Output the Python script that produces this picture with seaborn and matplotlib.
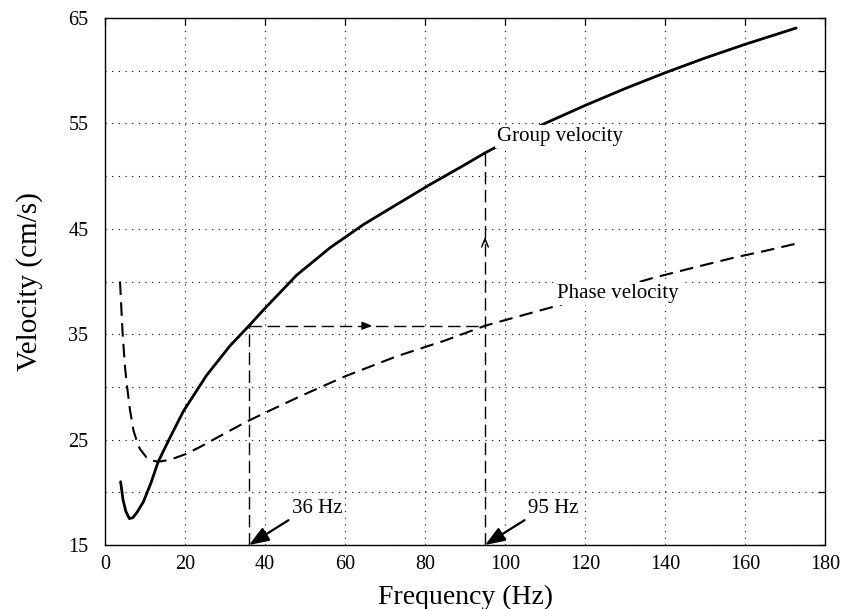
import matplotlib
matplotlib.use("Agg")
import matplotlib.pyplot as plt
import seaborn as sns
import pandas as pd

# Group velocity curve (Hz, cm/s)
group_freq = [3.9, 4.5, 5.2, 6.1, 7.0, 8.0, 9.6, 11.5, 13.3, 16.0, 19.6, 25.4,
              31.25, 36.0, 39.6, 47.9, 56.25, 64.6, 72.9, 81.25, 89.6, 95.0,
              100.0, 110.0, 120.0, 130.0, 140.0, 150.0, 160.0, 172.8]
group_vel = [21.0, 19.3, 18.2, 17.5, 17.6, 18.1, 19.1, 20.9, 22.9, 25.0, 27.7, 31.1,
             33.9, 35.8, 37.3, 40.6, 43.2, 45.4, 47.3, 49.2, 51.0, 52.2,
             53.2, 55.0, 56.7, 58.3, 59.8, 61.2, 62.5, 64.05]

# Phase velocity curve (Hz, cm/s)
phase_freq = [3.75, 4.4, 5.0, 5.4, 6.25, 7.1, 8.0, 8.75, 10.4, 12.0, 13.3, 15.0,
              17.1, 20.0, 23.75, 30.0, 35.4, 42.0, 48.75, 60.0, 72.9, 85.0, 95.0,
              98.75, 105.4, 112.1, 125.0, 137.1, 147.0, 157.1, 165.0, 172.9]
phase_vel = [40.0, 35.1, 31.9, 30.4, 27.8, 25.9, 24.8, 24.1, 23.3, 23.0, 22.9, 23.0,
             23.2, 23.6, 24.3, 25.6, 26.7, 27.9, 29.1, 31.0, 32.9, 34.4, 35.8,
             36.2, 36.9, 37.6, 39.0, 40.35, 41.3, 42.25, 42.9, 43.6]

# Construction frequencies and shared velocity level
mark_freqs = [36, 95]
mark_labels = ["36 Hz", "95 Hz"]
level_vel = 35.8
group_at_95 = 52.2

x_ticks = list(range(0, 181, 20))
y_major = [15, 25, 35, 45, 55, 65]
y_minor = [20, 30, 40, 50, 60]

sns.set_theme(style="white")
plt.rcParams["font.family"] = ["Liberation Serif", "DejaVu Serif"]
plt.rcParams["mathtext.fontset"] = "stix"
for key in ["text.color", "axes.labelcolor", "xtick.color", "ytick.color",
            "axes.edgecolor"]:
    plt.rcParams[key] = "black"

fig = plt.figure(figsize=(8.43, 6.09), dpi=100)
ax = fig.add_axes([105 / 843, 1 - 545 / 609, 720 / 843, 527 / 609])

gdf = pd.DataFrame({"f": group_freq, "v": group_vel})
pdf = pd.DataFrame({"f": phase_freq, "v": phase_vel})

sns.lineplot(data=gdf, x="f", y="v", ax=ax, color="black", lw=2.0,
             sort=False, estimator=None)
sns.lineplot(data=pdf, x="f", y="v", ax=ax, color="black", lw=1.5,
             sort=False, estimator=None)
ax.lines[-1].set_dashes((6.5, 3.5))
for ln in ax.lines:
    ln.set_solid_joinstyle("round")
    ln.set_dash_joinstyle("round")

ax.set_xlim(0, 180)
ax.set_ylim(15, 65)
ax.set_xticks(x_ticks)
ax.set_yticks(y_major)
ax.set_yticks(y_minor, minor=True)
ax.tick_params(axis="both", which="both", direction="in", top=True, right=True,
               length=5, width=0.9, colors="black", labelsize=14.5)
ax.tick_params(axis="y", pad=12)
ax.tick_params(axis="x", pad=7)

grid_kw = dict(color="black", linestyle=(0, (1, 5)), linewidth=0.8)
ax.grid(True, axis="y", which="both", **grid_kw)
ax.grid(True, axis="x", which="major", **grid_kw)

for sp in ax.spines.values():
    sp.set_color("black")
    sp.set_linewidth(1.0)

ax.set_xlabel("Frequency (Hz)", fontsize=20, labelpad=8)
ax.set_ylabel("Velocity (cm/s)", fontsize=21, labelpad=18)

# Construction lines
cons = dict(color="black", lw=1.0, dashes=(9, 4))
ax.plot([mark_freqs[0], mark_freqs[0]], [15, level_vel], **cons)
ax.plot([mark_freqs[0], mark_freqs[1]], [level_vel, level_vel], **cons)
ax.plot([mark_freqs[1], mark_freqs[1]], [15, group_at_95], **cons)

mid_f = (mark_freqs[0] + mark_freqs[1]) / 2
ax.annotate("", xy=(mid_f + 2.0, level_vel), xytext=(mid_f - 1.0, level_vel),
            arrowprops=dict(arrowstyle="-|>,head_length=0.5,head_width=0.2",
                            color="black", lw=1.0))
mid_v = (level_vel + group_at_95) / 2
ax.annotate("", xy=(mark_freqs[1], mid_v + 0.5), xytext=(mark_freqs[1], mid_v - 0.5),
            arrowprops=dict(arrowstyle="->,head_length=0.5,head_width=0.2",
                            color="black", lw=1.0))

# Frequency callouts
for fq, lab in zip(mark_freqs, mark_labels):
    ax.annotate(lab, xy=(fq, 15), xytext=(fq + 10.7, 17.55),
                fontsize=15, ha="left", va="bottom",
                arrowprops=dict(arrowstyle="-|>,head_length=0.8,head_width=0.3",
                                color="black", lw=1.6, shrinkA=0, shrinkB=0,
                                relpos=(0.0, 0.0)))

# Curve labels sit on a white patch that masks the lines behind them
label_box = dict(facecolor="white", edgecolor="none", pad=1.5)
ax.text(97.9, 53.35, "Group velocity", fontsize=15, ha="left", va="baseline",
        bbox=label_box, zorder=5)
ax.text(112.9, 38.4, "Phase velocity", fontsize=15, ha="left", va="baseline",
        bbox=label_box, zorder=5)

fig.savefig("out.png", dpi=100)
